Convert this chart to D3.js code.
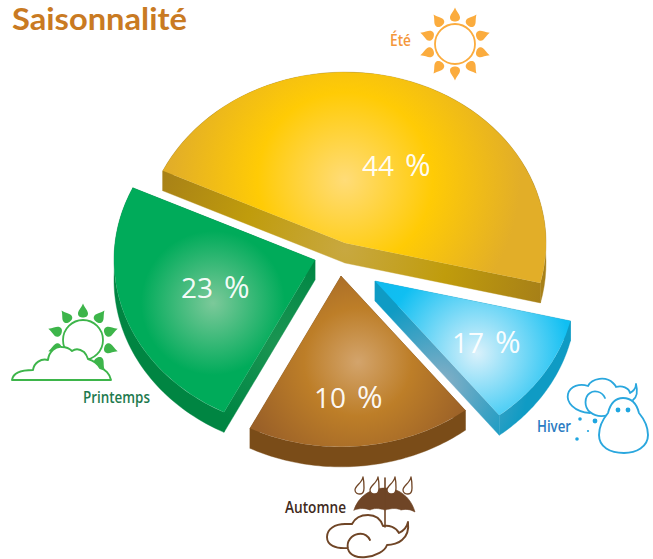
<!DOCTYPE html>
<html><head><meta charset="utf-8">
<script src="https://cdn.jsdelivr.net/npm/d3@7"></script>
<style>html,body{margin:0;padding:0;background:#fff}svg{display:block}</style>
</head><body><div id="c"></div>
<script>
const title = "Saisonnalité";
const seasons = ["Été","Hiver","Automne","Printemps"];
const labelValues = [44,17,10,23];           // printed percentages
const drawnShares = [44,10,17,23];           // slice widths as actually drawn in the picture

const W=653,H=559, R=201, squash=.85, depth=20, startDeg=-65;
const apex = [[345,243],[375,281],[341,276],[315,260]];
const topGrad = [
 {c:[345,180],r:175,s:[[0,"#ffdc78"],[.5,"#ffcb05"],[1,"#e2ae28"]]},
 {c:[477,353],r:110,s:[[0,"#daf1fb"],[.85,"#10bff2"],[1,"#10bcf0"]]},
 {c:[358,362],r:120,s:[[0,"#d3a46c"],[.45,"#bd7e28"],[1,"#9a6028"]]},
 {c:[213,303],r:80,s:[[0,"#7cc99a"],[.9,"#00ab5a"],[1,"#00ab5a"]]}
];
const sideGrad = [
 {c:[345,250],r:205,s:[[0,"#c8a840"],[.5,"#c09c0c"],[1,"#a67f18"]]},
 {c:[440,385],r:88,s:[[0,"#8ab0c6"],[.6,"#3fa2c4"],[1,"#0f9bc4"]]},
 {c:[350,450],r:120,s:[[0,"#7a4c18"],[1,"#7a4c18"]]},
 {c:[280,345],r:90,s:[[0,"#1b9552"],[.6,"#0a8c4a"],[1,"#008542"]]}
];
const labelPos = [[362,176],[452,353],[314,408],[181,298]];
const namePos = [[390,46,21,"#f4973a"],[537,432,34,"#2a7cc2"],[285,513,61,"#3f2a1d"],[83,403,67,"#1e7a4e"]];

const svg=d3.select("#c").append("svg").attr("width",W).attr("height",H);
const defs=svg.append("defs");

const arcs=d3.pie().sort(null).startAngle(startDeg*Math.PI/180).endAngle((startDeg+360)*Math.PI/180)(drawnShares);
const arcGen=d3.arc().innerRadius(0).outerRadius(R);
const line=d3.line();

function radial(id,g,gt){
  const e=defs.append("radialGradient").attr("id",id).attr("gradientUnits","userSpaceOnUse")
    .attr("cx",g.c[0]).attr("cy",g.c[1]).attr("r",g.r);
  if(gt)e.attr("gradientTransform",gt);
  g.s.forEach(s=>e.append("stop").attr("offset",s[0]).attr("stop-color",s[1]));
}
const proj=(a,th,r)=>[a[0]+r*Math.sin(th),a[1]-r*Math.cos(th)*squash];

arcs.forEach((d,i)=>{
  const a=apex[i];
  radial("top"+i,topGrad[i],`scale(1,${1/squash}) translate(${-a[0]},${-a[1]})`);
  radial("side"+i,sideGrad[i]);
  const g=svg.append("g");
  const pts=d3.range(0,61).map(k=>proj(a,d.startAngle+(d.endAngle-d.startAngle)*k/60,R));
  const band=pts.concat(pts.slice().reverse().map(p=>[p[0],p[1]+depth]));
  const drop=p=>[p[0],p[1]+depth];
  const q1=[a,pts[0],drop(pts[0]),drop(a)];
  const q2=[a,pts[60],drop(pts[60]),drop(a)];
  [q1,q2,band].forEach(poly=>{
    g.append("path").attr("d",line(poly)+"Z").attr("fill",`url(#side${i})`)
     .attr("stroke",`url(#side${i})`).attr("stroke-width",.4);
  });
  g.append("path").attr("d",arcGen(d))
    .attr("transform",`translate(${a[0]},${a[1]}) scale(1,${squash})`)
    .attr("fill",`url(#top${i})`);
  const lp=labelPos[i];
  const t=g.append("text").attr("x",lp[0]).attr("y",lp[1])
    .attr("font-family","'Open Sans'").attr("font-size",28).attr("fill","#fff").attr("fill-opacity",.96);
  t.append("tspan").text(labelValues[i]);
  t.append("tspan").text("%").attr("dx",11).attr("font-size",31);
  const np=namePos[i];
  svg.append("text").text(seasons[i]).attr("x",np[0]).attr("y",np[1])
    .attr("textLength",np[2]).attr("lengthAdjust","spacingAndGlyphs")
    .attr("font-family","'Open Sans'").attr("font-size",17).attr("font-weight",600).attr("fill",np[3]);
});

svg.append("text").text(title).attr("x",12).attr("y",30).attr("textLength",175).attr("lengthAdjust","spacingAndGlyphs")
  .attr("font-family","Lato").attr("font-weight",700).attr("font-size",30.5).attr("fill","#c97a22");

// ---- icons ----
const dropRay="M0,-8C2,-3 5,-1 5,2C5,5 2.5,6 0,6C-2.5,6 -5,5 -5,2C-5,-1 -2,-3 0,-8Z";
function sun(cx,cy,r,dist,col,sw,skip){
  const s=svg.append("g");
  d3.range(10).forEach(k=>{ if(skip&&skip.includes(k))return;
    s.append("path").attr("d",dropRay).attr("fill",col)
     .attr("transform",`translate(${cx},${cy}) rotate(${k*36}) translate(0,${-dist})`);});
  s.append("circle").attr("cx",cx).attr("cy",cy).attr("r",r).attr("fill","#fff").attr("stroke",col).attr("stroke-width",sw);
}
sun(455,44,20,28.5,"#fbac3e",1.8);
sun(83,340,20,28.5,"#3db54a",1.8,[5,6]);
const ic=(d,col,fill,sw)=>svg.append("path").attr("d",d).attr("fill",fill||"none").attr("stroke",col).attr("stroke-width",sw||2).attr("stroke-linejoin","round").attr("stroke-linecap","round");
// spring cloud
ic("M12,380C13,373 20,370 33,370C34,363 41,358 48,360C49,351 56,346 62,347C66,347 70,349 72,351C76,348 80,349 84,352C86,354 87,356 88,359C94,361 98,364 100,368C105,369 110,374 111,380Z","#3db54a","#fff",1.9);
// winter cloud and snowman
ic("M590,413C574,412 566,402 568,394C570,386 580,383 588,386C592,378 606,376 613,383C615,385 616,386 616,387C622,385 629,388 630,393C633,391 636,389 636,384C638,392 637,397 633,400","#2aa7de",null,1.8);
ic("M605,398C602,391 594,390 590,393C584,397 584,407 590,412C595,416 602,417 608,415","#2aa7de",null,1.8);
ic("M623,398C632,398 637,405 639,413C644,419 648,427 648,435C648,447 636,453 624,453C610,453 599,447 599,435C599,427 603,419 608,413C610,405 614,398 623,398Z","#2aa7de","#fff",1.9);
[[618,410,2.4],[628,410,2.4],[580,419,1.8],[595,421,2.4],[588,431,1.1],[577,439,1.8]].forEach(c=>
  svg.append("circle").attr("cx",c[0]).attr("cy",c[1]).attr("r",c[2]).attr("fill","#1fa6e0"));
// autumn umbrella and cloud
ic("M354,510C358,497 370,488 385,488C400,488 411,498 415,512C410,509 405,509 401,510C397,508 392,508 385,510C378,508 374,508 370,510C365,508 360,508 354,510Z","#6f4526","#6f4526",.6);
ic("M385,478L385,527","#6f4526",null,1.6);
[360,375,392,408].forEach(x=>ic(`M${x+3},477C${x+2},483 ${x-5},486 ${x-5},490C${x-5},493 ${x-2},494 ${x},494C${x+3},494 ${x+4},491 ${x+4},488C${x+4},484 ${x+4},481 ${x+3},477Z`,"#6f4526","#fff",1.3));
ic("M348,548C335,549 327,545 327,537C327,529 335,524 345,524C348,524 350,524 352,524C355,518 361,515 368,515C376,515 381,520 383,526C389,525 396,527 399,533C403,531 407,527 408,522C409,530 407,536 402,540C399,543 392,545 387,545C385,551 376,556 366,557C358,558 350,556 348,549C346,541 352,535 358,534C364,533 368,536 370,540","#6f4526",null,1.9);
</script></body></html>
